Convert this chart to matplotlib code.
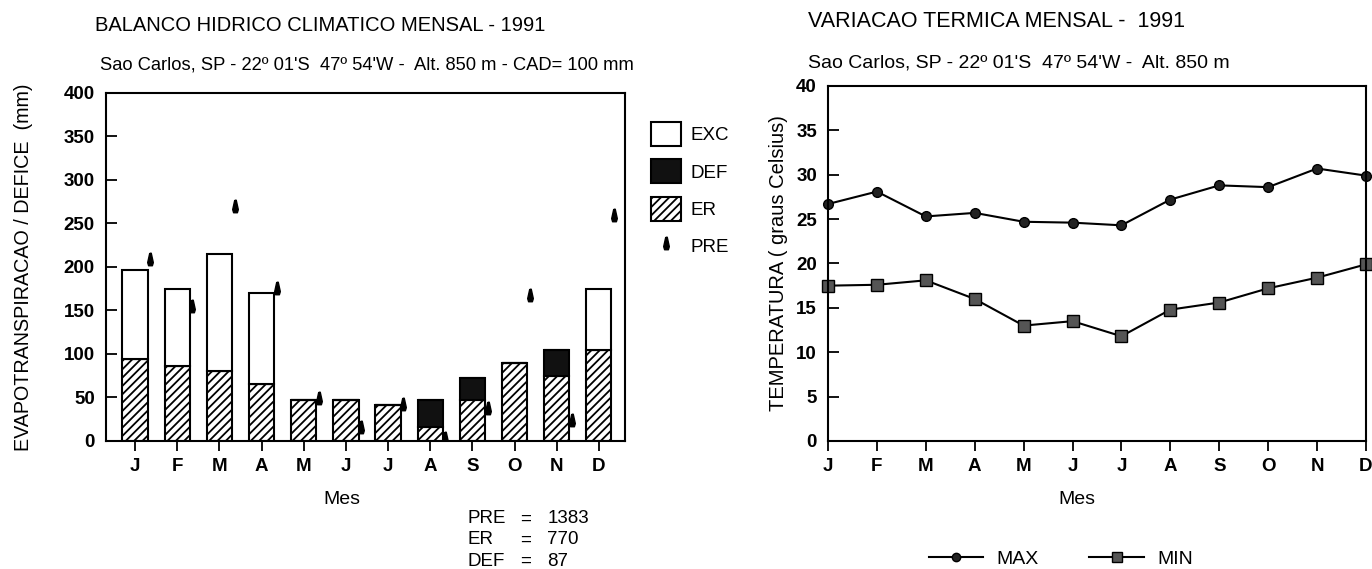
import numpy as np
import matplotlib
matplotlib.use('Agg')
import matplotlib.pyplot as plt
from matplotlib.patches import Patch
from matplotlib.lines import Line2D
from matplotlib.path import Path

plt.rcParams['font.family'] = ['Liberation Sans', 'DejaVu Sans']
plt.rcParams['hatch.linewidth'] = 1.3

# Monthly water balance 1991 (mm)
months = ['J', 'F', 'M', 'A', 'M', 'J', 'J', 'A', 'S', 'O', 'N', 'D']
er = [94, 86, 80, 65, 47, 47, 41, 16, 47, 90, 75, 104]
deficit = [0, 0, 0, 0, 0, 0, 0, 31, 25, 0, 30, 0]
exc = [103, 89, 135, 105, 0, 0, 0, 0, 0, 0, 0, 71]
pre = [209, 155, 270, 176, 49, 16, 43, 3, 38, 168, 24, 260]
totals_lbl = ['PRE', 'ER', 'DEF']
totals_val = [1383, 770, 87]

# Monthly temperature 1991 (C)
t_max = [26.7, 28.1, 25.3, 25.7, 24.7, 24.6, 24.3, 27.2, 28.8, 28.6, 30.7, 29.9]
t_min = [17.5, 17.6, 18.1, 16.0, 13.0, 13.5, 11.8, 14.8, 15.6, 17.2, 18.4, 19.9]

# droplet-like marker for precipitation
drop = Path([(-0.12, 1.0), (0.12, 1.0), (0.45, -0.5), (0.3, -1.0),
             (-0.3, -1.0), (-0.45, -0.5), (-0.12, 1.0)])

fig = plt.figure(figsize=(13.72, 5.69), dpi=100)

# ---------------- left: water balance ----------------
ax1 = fig.add_axes([0.0773, 0.2250, 0.3782, 0.6116])
x = np.arange(len(months))
w = 0.6
er_a = np.array(er)
def_a = np.array(deficit)
ax1.bar(x, er, w, color='white', edgecolor='black', hatch='////', linewidth=1.5)
ax1.bar(x, deficit, w, bottom=er_a, color='#111111', edgecolor='black', linewidth=1.5)
ax1.bar(x, exc, w, bottom=er_a + def_a, color='white', edgecolor='black', linewidth=1.5)
ax1.plot(x + 0.36, pre, linestyle='none', marker=drop, markersize=9, color='black')

ax1.set_xlim(-0.69, 11.62)
ax1.set_ylim(0, 400)
ax1.set_yticks(range(0, 401, 50))
ax1.set_xticks(x)
ax1.set_xticklabels(months)
ax1.tick_params(axis='y', direction='in', length=8, width=1.3, labelsize=13.5, pad=8)
ax1.tick_params(axis='x', direction='out', length=7, width=1.3, labelsize=13.5, pad=5)
for t in ax1.get_xticklabels() + ax1.get_yticklabels():
    t.set_fontweight('bold')
for s in ax1.spines.values():
    s.set_linewidth(1.5)
ax1.set_xlabel('Mes', fontsize=14, labelpad=12, x=0.455)
ax1.set_ylabel('EVAPOTRANSPIRACAO / DEFICE  (mm)', fontsize=14.2, labelpad=22)

fig.text(0.069, 0.955, 'BALANCO HIDRICO CLIMATICO MENSAL - 1991', fontsize=14.5, va='center')
fig.text(0.073, 0.885, "Sao Carlos, SP - 22\u00ba 01'S  47\u00ba 54'W -  Alt. 850 m - CAD= 100 mm",
         fontsize=13.2, va='center')

leg1 = [Patch(facecolor='white', edgecolor='black', linewidth=1.5, label='EXC'),
        Patch(facecolor='#111111', edgecolor='black', linewidth=1.5, label='DEF'),
        Patch(facecolor='white', edgecolor='black', hatch='////', linewidth=1.5, label='ER'),
        Line2D([], [], linestyle='none', marker=drop, markersize=9, color='black', label='PRE')]
fig.legend(handles=leg1, loc='upper left', bbox_to_anchor=(0.462, 0.815), frameon=False,
           fontsize=13.5, handlelength=1.6, handleheight=1.6, labelspacing=0.7, handletextpad=0.5)

for i, (lbl, val) in enumerate(zip(totals_lbl, totals_val)):
    yy = 0.088 - i * 0.037
    fig.text(0.341, yy, lbl, fontsize=13.5, va='center')
    fig.text(0.383, yy, '=', fontsize=13.5, va='center', ha='center')
    fig.text(0.399, yy, str(val), fontsize=13.5, va='center')

# ---------------- right: temperature ----------------
ax2 = fig.add_axes([0.6035, 0.2250, 0.3921, 0.6239])
ax2.plot(x, t_max, color='black', linewidth=1.5, marker='o', markersize=7,
         markerfacecolor='#222222', markeredgecolor='black', clip_on=False, label='MAX')
ax2.plot(x, t_min, color='black', linewidth=1.5, marker='s', markersize=8,
         markerfacecolor='#555555', markeredgecolor='black', clip_on=False, label='MIN')
ax2.set_xlim(0, 11)
ax2.set_ylim(0, 40)
ax2.set_yticks(range(0, 41, 5))
ax2.set_xticks(x)
ax2.set_xticklabels(months)
ax2.tick_params(axis='y', direction='in', length=8, width=1.3, labelsize=13.5, pad=8)
ax2.tick_params(axis='x', direction='out', length=7, width=1.3, labelsize=13.5, pad=5)
for t in ax2.get_xticklabels() + ax2.get_yticklabels():
    t.set_fontweight('bold')
for s in ax2.spines.values():
    s.set_linewidth(1.5)
ax2.set_xlabel('Mes', fontsize=14, labelpad=12, x=0.463)
ax2.set_ylabel('TEMPERATURA ( graus Celsius)', fontsize=14.5, labelpad=6)

fig.text(0.589, 0.962, 'VARIACAO TERMICA MENSAL -  1991', fontsize=15.5, va='center')
fig.text(0.589, 0.890, "Sao Carlos, SP - 22\u00ba 01'S  47\u00ba 54'W -  Alt. 850 m",
         fontsize=14, va='center')

leg2 = [Line2D([], [], color='black', linewidth=1.5, marker='o', markersize=6,
               markerfacecolor='#222222', label='MAX'),
        Line2D([], [], color='black', linewidth=1.5, marker='s', markersize=7,
               markerfacecolor='#555555', label='MIN')]
fig.legend(handles=leg2, loc='center left', bbox_to_anchor=(0.664, 0.017), ncol=2,
           frameon=False, fontsize=14, handlelength=2.8, columnspacing=2.6, handletextpad=0.7)

fig.savefig('out.png', dpi=100)
